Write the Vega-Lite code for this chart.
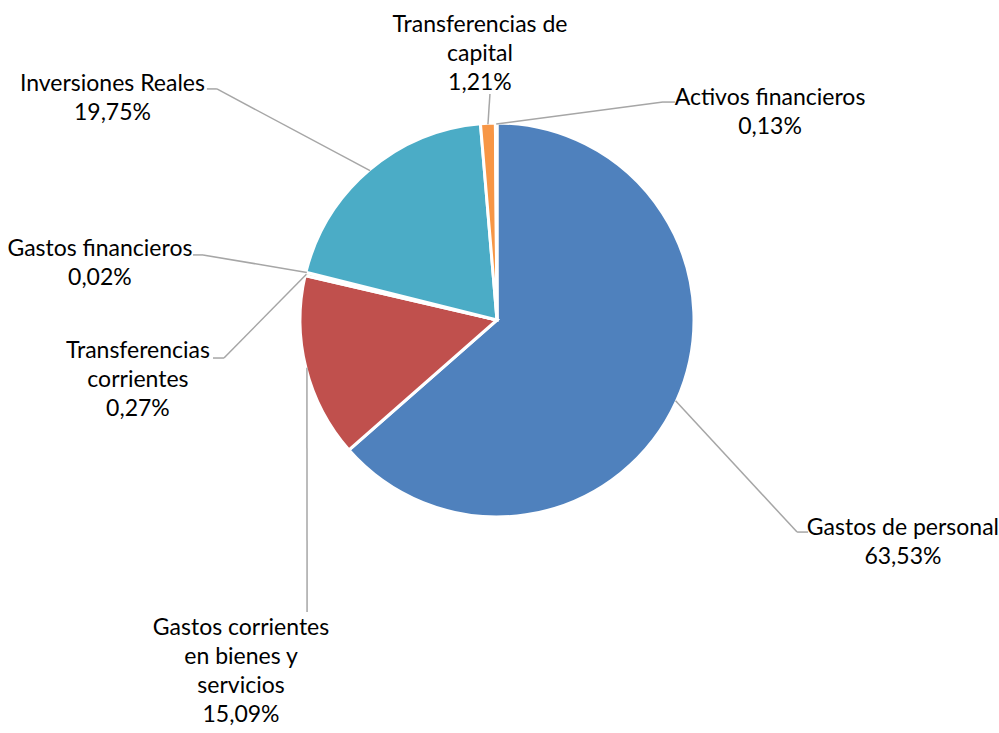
{
  "$schema": "https://vega.github.io/schema/vega-lite/v6.json",
  "width": 994,
  "height": 640,
  "autosize": {"type": "none"},
  "padding": {"left": 0, "top": 0, "right": 5, "bottom": 93},
  "background": "white",
  "config": {"view": {"stroke": null}},
  "data": {
    "values": [
      {"categoria": "Gastos de personal", "pct": 63.53, "orden": 1},
      {"categoria": "Gastos corrientes en bienes y servicios", "pct": 15.09, "orden": 2},
      {"categoria": "Transferencias corrientes", "pct": 0.27, "orden": 3},
      {"categoria": "Gastos financieros", "pct": 0.02, "orden": 4},
      {"categoria": "Inversiones Reales", "pct": 19.75, "orden": 5},
      {"categoria": "Transferencias de capital", "pct": 1.21, "orden": 6},
      {"categoria": "Activos financieros", "pct": 0.13, "orden": 7}
    ]
  },
  "transform": [
    {"window": [{"op": "sum", "field": "pct", "as": "acum"}], "sort": [{"field": "orden"}], "frame": [null, 0]},
    {"joinaggregate": [{"op": "sum", "field": "pct", "as": "total"}]},
    {"calculate": "(datum.acum - datum.pct / 2) / datum.total * 2 * PI", "as": "ang"},
    {"calculate": "sin(datum.ang)", "as": "x0"},
    {"calculate": "cos(datum.ang)", "as": "y0"},
    {"calculate": "{'Gastos de personal': 'Gastos de personal', 'Gastos corrientes en bienes y servicios': 'Gastos corrientes\\nen bienes y\\nservicios', 'Transferencias corrientes': 'Transferencias\\ncorrientes', 'Gastos financieros': 'Gastos financieros', 'Inversiones Reales': 'Inversiones Reales', 'Transferencias de capital': 'Transferencias de\\ncapital', 'Activos financieros': 'Activos financieros'}[datum.categoria]", "as": "nombre"},
    {"calculate": "datum.nombre + '\\n' + replace(format(datum.pct, '.2f'), '.', ',') + '%'", "as": "etiqueta"},
    {"calculate": "{'Gastos de personal': [2.071, -1.097, 1.531, -1.082, 1.587, -1.082], 'Gastos corrientes en bienes y servicios': [-1.306, -1.607, -0.969, -1.49, -0.969, -1.49], 'Transferencias corrientes': [-1.832, -0.194, -1.393, -0.194, -1.449, -0.194], 'Gastos financieros': [-2.026, 0.327, -1.5, 0.332, -1.551, 0.332], 'Inversiones Reales': [-1.962, 1.168, -1.429, 1.179, -1.48, 1.179], 'Transferencias de capital': [-0.087, 1.469, -0.036, 1.153, -0.036, 1.153], 'Activos financieros': [1.393, 1.097, 0.847, 1.112, 0.908, 1.112]}[datum.categoria]", "as": "pos"},
    {"calculate": "datum.pos[0]", "as": "lx"},
    {"calculate": "datum.pos[1]", "as": "ly"},
    {"calculate": "datum.pos[2]", "as": "x1"},
    {"calculate": "datum.pos[3]", "as": "y1"},
    {"calculate": "datum.pos[4]", "as": "x2"},
    {"calculate": "datum.pos[5]", "as": "y2"}
  ],
  "layer": [
    {
      "mark": {"type": "arc", "outerRadius": 197, "stroke": "white", "strokeWidth": 3},
      "encoding": {
        "theta": {"field": "pct", "type": "quantitative", "stack": true},
        "order": {"field": "orden", "type": "quantitative", "sort": "ascending"},
        "color": {
          "field": "categoria",
          "type": "nominal",
          "legend": null,
          "scale": {
            "domain": ["Gastos de personal", "Gastos corrientes en bienes y servicios", "Transferencias corrientes", "Gastos financieros", "Inversiones Reales", "Transferencias de capital", "Activos financieros"],
            "range": ["#4F81BD", "#C0504D", "#9BBB59", "#8064A2", "#4BACC6", "#F79646", "#2C4D75"]
          }
        }
      }
    },
    {
      "mark": {"type": "rule", "color": "#A6A6A6", "strokeWidth": 1.5},
      "encoding": {
        "x": {"field": "x0", "type": "quantitative", "axis": null, "scale": {"domain": [-2.5357, 2.5357], "nice": false, "zero": false}},
        "y": {"field": "y0", "type": "quantitative", "axis": null, "scale": {"domain": [-1.6327, 1.6327], "nice": false, "zero": false}},
        "x2": {"field": "x1"},
        "y2": {"field": "y1"}
      }
    },
    {
      "mark": {"type": "rule", "color": "#A6A6A6", "strokeWidth": 1.5},
      "encoding": {
        "x": {"field": "x1", "type": "quantitative"},
        "y": {"field": "y1", "type": "quantitative"},
        "x2": {"field": "x2"},
        "y2": {"field": "y2"}
      }
    },
    {
      "mark": {"type": "text", "font": "Lato", "fontSize": 23, "lineHeight": 29, "lineBreak": "\n", "align": "center", "baseline": "alphabetic", "color": "#000000"},
      "encoding": {
        "x": {"field": "lx", "type": "quantitative"},
        "y": {"field": "ly", "type": "quantitative"},
        "text": {"field": "etiqueta", "type": "nominal"}
      }
    }
  ]
}
